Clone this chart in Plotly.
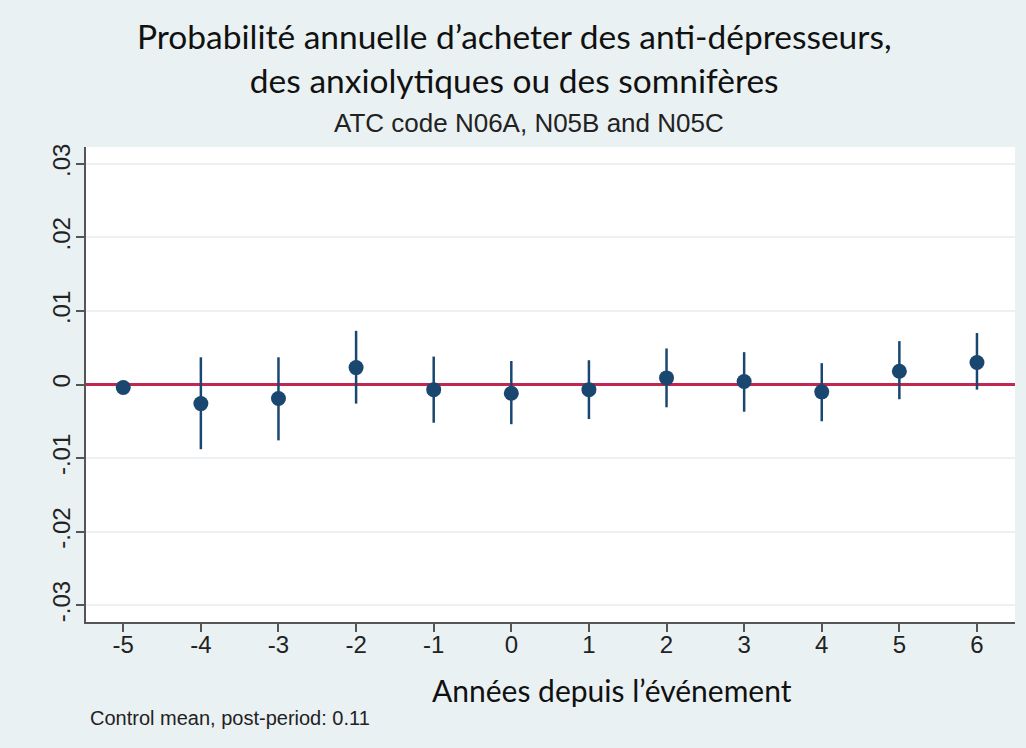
import plotly.graph_objects as go

# Event-study estimates: years relative to the event
years = [-5, -4, -3, -2, -1, 0, 1, 2, 3, 4, 5, 6]
coef = [-0.0004, -0.0026, -0.0019, 0.0023, -0.0007, -0.0012, -0.0007, 0.0009, 0.0004, -0.0010, 0.0018, 0.0030]
ci_low = [-0.0004, -0.0088, -0.0076, -0.0026, -0.0052, -0.0054, -0.0047, -0.0031, -0.0037, -0.0050, -0.0020, -0.0007]
ci_high = [-0.0004, 0.0037, 0.0037, 0.0073, 0.0038, 0.0032, 0.0033, 0.0049, 0.0044, 0.0029, 0.0059, 0.0070]

y_ticks = [-0.03, -0.02, -0.01, 0, 0.01, 0.02, 0.03]
y_tick_labels = ["-.03", "-.02", "-.01", "0", ".01", ".02", ".03"]

navy = "#1a476f"
bg = "#eaf1f3"
sans = "Liberation Sans, Arial, sans-serif"

fig = go.Figure()

fig.add_trace(go.Scatter(
    x=years,
    y=coef,
    mode="markers",
    marker=dict(color=navy, size=15, line=dict(width=0)),
    error_y=dict(
        type="data",
        symmetric=False,
        array=[h - c for h, c in zip(ci_high, coef)],
        arrayminus=[c - l for c, l in zip(coef, ci_low)],
        color=navy,
        thickness=2.5,
        width=0,
    ),
    showlegend=False,
    hoverinfo="skip",
))

fig.update_layout(
    width=1026,
    height=748,
    margin=dict(l=86, r=11, t=147, b=126),
    paper_bgcolor=bg,
    plot_bgcolor="white",
    font=dict(family=sans, color="#222"),
    xaxis=dict(
        range=[-5.48, 6.49],
        tickvals=years,
        ticktext=[str(v) for v in years],
        showgrid=False,
        zeroline=False,
        showline=True,
        linecolor="#555",
        linewidth=1.5,
        ticks="outside",
        ticklen=8,
        tickwidth=1.5,
        tickcolor="#555",
        ticklabelstandoff=-8,
        tickfont=dict(size=24, family=sans, color="#222"),
    ),
    yaxis=dict(
        range=[-0.0323, 0.0323],
        tickvals=y_ticks,
        ticktext=y_tick_labels,
        tickangle=-90,
        showgrid=True,
        gridcolor="#edf1f3",
        gridwidth=1.5,
        # red reference line at zero
        zeroline=True,
        zerolinecolor="#c2274f",
        zerolinewidth=2.5,
        showline=True,
        linecolor="#555",
        linewidth=1.5,
        ticks="outside",
        ticklen=8,
        tickwidth=1.5,
        tickcolor="#555",
        ticklabelstandoff=-3,
        tickfont=dict(size=24, family=sans, color="#222"),
    ),
)

fig.add_annotation(
    text="Probabilité annuelle d’acheter des anti-dépresseurs,<br>des anxiolytiques ou des somnifères",
    xref="paper", yref="paper", x=(514 - 86) / 929, y=1.0 + (147 - 14) / 475,
    xanchor="center", yanchor="top", showarrow=False,
    font=dict(family="Lato, sans-serif", size=33.5, color="#111"),
    align="center",
)
fig.add_annotation(
    text="ATC code N06A, N05B and N05C",
    xref="paper", yref="paper", x=(529 - 86) / 929, y=1.0 + (147 - 123) / 475,
    xanchor="center", yanchor="middle", showarrow=False,
    font=dict(family=sans, size=26, color="#222"),
)
fig.add_annotation(
    text="Années depuis l’événement",
    xref="paper", yref="paper", x=(612 - 86) / 929, y=-(690 - 622) / 475,
    xanchor="center", yanchor="middle", showarrow=False,
    font=dict(family="Lato, sans-serif", size=30, color="#111"),
)
fig.add_annotation(
    text="Control mean, post-period: 0.11",
    xref="paper", yref="paper", x=(88 - 86) / 929, y=-(718 - 622) / 475,
    xanchor="left", yanchor="middle", showarrow=False,
    font=dict(family=sans, size=20, color="#222"),
)

fig.write_html("out.html")
